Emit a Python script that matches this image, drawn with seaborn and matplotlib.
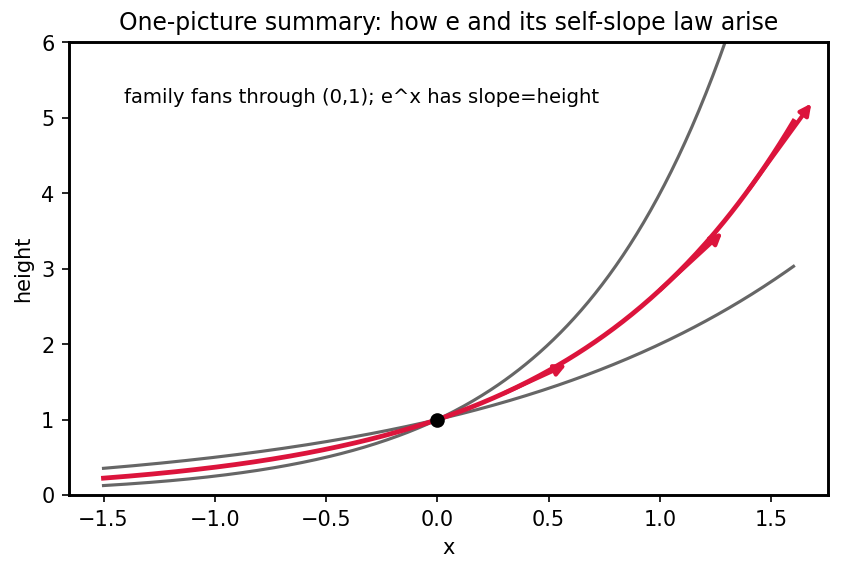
import numpy as np
import pandas as pd
import matplotlib
matplotlib.use("Agg")
import matplotlib.pyplot as plt
import seaborn as sns

# bases of the exponential family, all passing through (0,1)
gray_bases = [2.0, 4.0]
red_base = np.e
x_start, x_end = -1.5, 1.6
# points on e^x where the tangent (slope = height) arrows start
arrow_x = [0.3, 1.0, 1.4]
arrow_dx = 0.28

xs = np.linspace(x_start, x_end, 300)
rows = []
for b in gray_bases:
    rows.append(pd.DataFrame({"x": xs, "height": b ** xs, "base": str(b)}))
df_gray = pd.concat(rows)
df_red = pd.DataFrame({"x": xs, "height": red_base ** xs})

plt.rcParams["axes.linewidth"] = 1.4
fig, ax = plt.subplots(figsize=(5.61, 3.81), dpi=150)
fig.subplots_adjust(left=0.082, right=0.984, top=0.925, bottom=0.133)

sns.lineplot(data=df_gray, x="x", y="height", units="base", estimator=None,
             color="#666666", lw=1.5, ax=ax)
sns.lineplot(data=df_red, x="x", y="height", color="#DC143C", lw=2.3, ax=ax)

# tangent arrows: rise = height * run
for x0 in arrow_x:
    y0 = red_base ** x0
    ax.annotate("", xy=(x0 + arrow_dx, y0 + y0 * arrow_dx), xytext=(x0, y0),
                arrowprops=dict(arrowstyle="-|>", color="#DC143C", lw=2.0,
                                mutation_scale=11, shrinkA=0, shrinkB=0))

ax.plot([0], [1], "o", color="black", ms=6, zorder=5)

ax.text(-1.41, 5.2, "family fans through (0,1); e^x has slope=height", fontsize=9.4)
ax.set_ylim(0, 6)
ax.set_xlabel("x")
ax.set_ylabel("height")
ax.set_title("One-picture summary: how e and its self-slope law arise", fontsize=11.3)

fig.savefig("out.png", dpi=150)
